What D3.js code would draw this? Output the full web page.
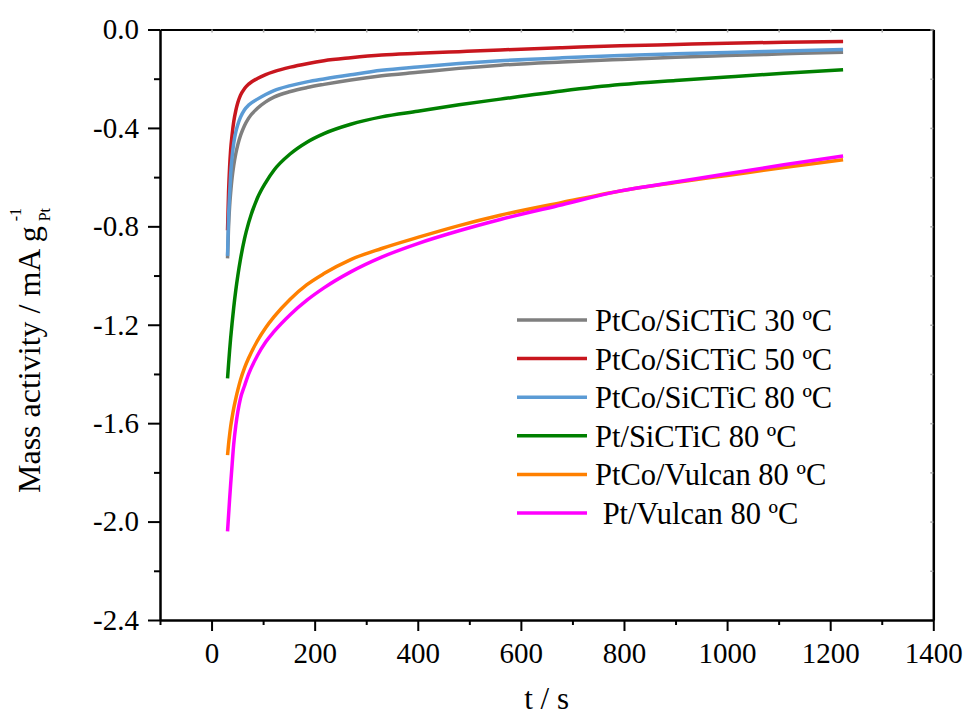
<!DOCTYPE html>
<html>
<head>
<meta charset="utf-8">
<script src="https://cdn.jsdelivr.net/npm/d3@7"></script>
<style>
  body { margin: 0; background: #fff; }
  svg { display: block; }
  text { font-family: "Liberation Serif", "Times New Roman", serif; fill: #000; }
</style>
</head>
<body>
<svg id="chart" width="965" height="718"></svg>
<script>
// Chronoamperometry: mass activity vs. time
const timeSeconds = [31, 33, 35, 37, 40, 43, 47, 51, 56, 64, 72, 89, 105, 121, 153, 185, 218, 270, 330, 400, 480, 560, 680, 793, 900, 1000, 1110, 1225];

const ptcoSicTic30 = [-0.93, -0.80, -0.72, -0.665, -0.60, -0.553, -0.505, -0.468, -0.432, -0.39, -0.36, -0.32, -0.294, -0.275, -0.252, -0.236, -0.223, -0.205, -0.188, -0.174, -0.158, -0.145, -0.132, -0.122, -0.113, -0.106, -0.099, -0.092];
const ptcoSicTic50 = [-0.816, -0.66, -0.56, -0.49, -0.425, -0.375, -0.33, -0.297, -0.268, -0.24, -0.222, -0.199, -0.183, -0.171, -0.153, -0.139, -0.127, -0.115, -0.104, -0.097, -0.09, -0.083, -0.074, -0.066, -0.061, -0.056, -0.052, -0.049];
const ptcoSicTic80 = [-0.92, -0.76, -0.67, -0.59, -0.515, -0.462, -0.417, -0.386, -0.357, -0.326, -0.307, -0.283, -0.264, -0.248, -0.228, -0.213, -0.201, -0.184, -0.166, -0.152, -0.138, -0.127, -0.115, -0.106, -0.099, -0.093, -0.087, -0.081];
const ptSicTic80 = [-1.418, -1.36, -1.305, -1.255, -1.19, -1.13, -1.06, -1.00, -0.935, -0.85, -0.785, -0.685, -0.622, -0.572, -0.505, -0.458, -0.423, -0.385, -0.355, -0.332, -0.306, -0.283, -0.25, -0.224, -0.207, -0.193, -0.178, -0.164];
const ptcoVulcan80 = [-1.73, -1.685, -1.648, -1.615, -1.575, -1.54, -1.50, -1.465, -1.425, -1.375, -1.335, -1.265, -1.212, -1.168, -1.095, -1.037, -0.992, -0.935, -0.89, -0.845, -0.797, -0.755, -0.703, -0.656, -0.622, -0.593, -0.561, -0.529];
const ptVulcan80 = [-2.04, -1.975, -1.91, -1.85, -1.765, -1.685, -1.61, -1.553, -1.50, -1.448, -1.40, -1.325, -1.27, -1.228, -1.158, -1.10, -1.05, -0.985, -0.925, -0.87, -0.818, -0.772, -0.712, -0.656, -0.62, -0.586, -0.55, -0.514];

const seriesLabels = ["PtCo/SiCTiC 30 \u00baC", "PtCo/SiCTiC 50 \u00baC", "PtCo/SiCTiC 80 \u00baC", "Pt/SiCTiC 80 \u00baC", "PtCo/Vulcan 80 \u00baC", " Pt/Vulcan 80 \u00baC"];
const seriesValues = [ptcoSicTic30, ptcoSicTic50, ptcoSicTic80, ptSicTic80, ptcoVulcan80, ptVulcan80];

const xMajorTicks = [0, 200, 400, 600, 800, 1000, 1200, 1400];
const xMinorTicks = [-100, 100, 300, 500, 700, 900, 1100, 1300];
const yMajorTicks = [0, -0.4, -0.8, -1.2, -1.6, -2.0, -2.4];
const yMajorLabels = ["0.0", "-0.4", "-0.8", "-1.2", "-1.6", "-2.0", "-2.4"];
const yMinorTicks = [-0.2, -0.6, -1.0, -1.4, -1.8, -2.2];

const palette = ["#7f7f7f", "#c8161e", "#5b9bd5", "#008000", "#ff8000", "#ff00ff"];

const svg = d3.select("#chart");
const plotLeft = 160, plotRight = 933.3, plotTop = 29.5, plotBottom = 620;

const x = d3.scaleLinear().domain([-100, 1400]).range([plotLeft, plotRight]);
const y = d3.scaleLinear().domain([-2.4, 0]).range([plotBottom, plotTop]);

// curves
const line = d3.line()
  .x(d => x(d[0]))
  .y(d => y(d[1]))
  .curve(d3.curveMonotoneX);

seriesValues.forEach((vals, i) => {
  svg.append("path")
    .datum(timeSeconds.map((t, k) => [t, vals[k]]))
    .attr("fill", "none")
    .attr("stroke", palette[i])
    .attr("stroke-width", 3.5)
    .attr("d", line);
});

// frame: top and right edges with small inward ticks
svg.append("g")
  .attr("transform", `translate(0,${plotTop})`)
  .call(d3.axisTop(x).tickValues(d3.range(0, 1401, 100)).tickSize(-3).tickSizeOuter(0).tickFormat(""))
  .call(g => g.selectAll(".tick line").attr("stroke", "#aaa").attr("stroke-width", 1.5))
  .call(g => g.select(".domain").attr("stroke", "#000").attr("stroke-width", 2));

svg.append("g")
  .attr("transform", `translate(${plotRight},0)`)
  .call(d3.axisRight(y).tickValues([...yMajorTicks, ...yMinorTicks]).tickSize(-3).tickSizeOuter(0).tickFormat(""))
  .call(g => g.selectAll(".tick line").attr("stroke", "#aaa").attr("stroke-width", 1.5))
  .call(g => g.select(".domain").attr("stroke", "#000").attr("stroke-width", 2.5));

// left axis
svg.append("g")
  .attr("transform", `translate(${plotLeft},0)`)
  .call(d3.axisLeft(y).tickValues(yMinorTicks).tickSize(6).tickSizeOuter(0).tickFormat(""))
  .call(g => g.select(".domain").remove())
  .call(g => g.selectAll(".tick line").attr("stroke-width", 2));

svg.append("g")
  .attr("transform", `translate(${plotLeft},0)`)
  .call(d3.axisLeft(y).tickValues(yMajorTicks).tickSize(12).tickPadding(9).tickSizeOuter(0)
    .tickFormat((d, i) => yMajorLabels[i]))
  .call(g => g.select(".domain").attr("stroke-width", 2.5))
  .call(g => g.selectAll(".tick line").attr("stroke-width", 2))
  .call(g => g.selectAll(".tick text").attr("font-size", 29).attr("font-family", null));

// bottom axis
svg.append("g")
  .attr("transform", `translate(0,${plotBottom})`)
  .call(d3.axisBottom(x).tickValues(xMinorTicks).tickSize(5).tickSizeOuter(0).tickFormat(""))
  .call(g => g.select(".domain").remove())
  .call(g => g.selectAll(".tick line").attr("stroke-width", 2));

svg.append("g")
  .attr("transform", `translate(0,${plotBottom})`)
  .call(d3.axisBottom(x).tickValues(xMajorTicks).tickSize(11).tickPadding(11).tickSizeOuter(0)
    .tickFormat(d3.format("d")))
  .call(g => g.select(".domain").attr("stroke-width", 2.5))
  .call(g => g.selectAll(".tick line").attr("stroke-width", 2))
  .call(g => g.selectAll(".tick text").attr("font-size", 29).attr("font-family", null));

// axis titles
svg.append("text")
  .attr("x", (plotLeft + plotRight) / 2)
  .attr("y", 709)
  .attr("text-anchor", "middle")
  .attr("font-size", 31)
  .text("t / s");

const yTitle = svg.append("g").attr("transform", "translate(40,493) rotate(-90)");
const yMain = yTitle.append("text")
  .attr("font-size", 32)
  .text("Mass activity / mA g");
const mainLen = yMain.node().getComputedTextLength();
yTitle.append("text")
  .attr("x", mainLen + 5)
  .attr("y", -19)
  .attr("font-size", 16)
  .text("-1");
yTitle.append("text")
  .attr("x", mainLen + 5)
  .attr("y", 10)
  .attr("font-size", 16)
  .text("Pt");

// legend
const legend = svg.append("g").attr("transform", "translate(517,320)");
seriesLabels.forEach((lab, i) => {
  const row = legend.append("g").attr("transform", `translate(0,${i * 38.6})`);
  row.append("line")
    .attr("x1", 0).attr("x2", 70)
    .attr("y1", 0).attr("y2", 0)
    .attr("stroke", palette[i])
    .attr("stroke-width", 3.5);
  row.append("text")
    .attr("x", 78)
    .attr("y", 11)
    .attr("font-size", 30.5)
    .style("white-space", "pre")
    .text(lab);
});
</script>
</body>
</html>
